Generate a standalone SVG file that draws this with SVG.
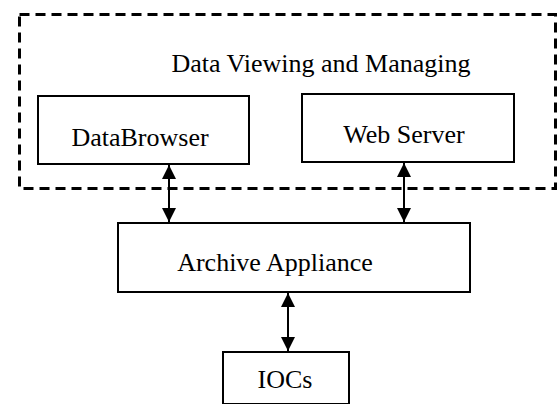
<svg xmlns="http://www.w3.org/2000/svg" width="558" height="404" viewBox="0 0 558 404">
<defs>
<style>
.box{fill:#fff;stroke:#000;stroke-width:2}
.t{font-family:"Liberation Serif","Times New Roman",serif;font-size:26px;fill:#000;text-anchor:middle}
.c{stroke:#000;stroke-width:2;fill:none;marker-start:url(#ah);marker-end:url(#ah)}
</style>
<marker id="ah" viewBox="0 0 14 14" refX="14" refY="7" markerWidth="14" markerHeight="14" markerUnits="userSpaceOnUse" orient="auto-start-reverse">
<path d="M0,0 L14,7 L0,14 Z" fill="#000"/>
</marker>
</defs>
<rect width="558" height="404" fill="#fff"/>
<g id="group-dvm">
<rect x="19.5" y="14.5" width="536" height="174" fill="none" stroke="#000" stroke-width="3" stroke-dasharray="10,6"/>
<text class="t" x="321" y="72">Data Viewing and Managing</text>
</g>
<g id="databrowser">
<rect class="box" x="38" y="96" width="211" height="68"/>
<text class="t" x="140" y="146">DataBrowser</text>
</g>
<g id="webserver">
<rect class="box" x="302" y="94" width="212" height="68"/>
<text class="t" x="404" y="143">Web Server</text>
</g>
<g id="archive">
<rect class="box" x="118" y="223" width="352" height="69"/>
<text class="t" x="275" y="271">Archive Appliance</text>
</g>
<g id="iocs">
<rect class="box" x="223" y="352" width="126" height="52"/>
<text class="t" x="285" y="388">IOCs</text>
</g>
<g id="connectors">
<line class="c" x1="169" y1="165" x2="169" y2="222"/>
<line class="c" x1="404" y1="163" x2="404" y2="222"/>
<line class="c" x1="288" y1="293" x2="288" y2="351"/>
</g>
</svg>
